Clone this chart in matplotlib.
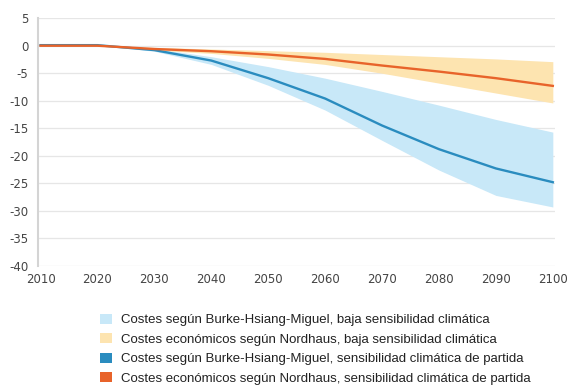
import matplotlib
matplotlib.use("Agg")
import matplotlib.pyplot as plt
from matplotlib.patches import Patch

years = [2010, 2020, 2030, 2040, 2050, 2060, 2070, 2080, 2090, 2100]
bhm_central = [0.1, 0.1, -0.8, -2.7, -5.9, -9.6, -14.5, -18.8, -22.3, -24.8]
bhm_upper = [0.1, 0.1, -0.5, -2.0, -3.8, -5.9, -8.3, -10.8, -13.4, -15.7]
bhm_lower = [0.1, 0.1, -1.0, -3.4, -7.2, -11.7, -17.2, -22.6, -27.2, -29.3]
nord_central = [0.0, 0.0, -0.6, -1.0, -1.6, -2.4, -3.6, -4.7, -5.9, -7.3]
nord_upper = [0.0, 0.0, -0.3, -0.6, -0.9, -1.2, -1.6, -2.0, -2.4, -2.9]
nord_lower = [0.0, 0.0, -0.8, -1.4, -2.3, -3.4, -5.0, -6.8, -8.6, -10.4]

y_ticks = [5, 0, -5, -10, -15, -20, -25, -30, -35, -40]
x_ticks = [2010, 2020, 2030, 2040, 2050, 2060, 2070, 2080, 2090, 2100]

labels = [
    "Costes según Burke-Hsiang-Miguel, baja sensibilidad climática",
    "Costes económicos según Nordhaus, baja sensibilidad climática",
    "Costes según Burke-Hsiang-Miguel, sensibilidad climática de partida",
    "Costes económicos según Nordhaus, sensibilidad climática de partida",
]

c_lblue = "#c8e8f8"
c_lorange = "#fde4b0"
c_blue = "#2a8cbf"
c_orange = "#e8632a"

fig = plt.figure(figsize=(5.67, 3.87), dpi=100)
ax = fig.add_axes([0.067, 0.313, 0.912, 0.640])

ax.fill_between(years, bhm_upper, bhm_lower, color=c_lblue, lw=0, zorder=2)
ax.fill_between(years, nord_upper, nord_lower, color=c_lorange, lw=0, zorder=2)
ax.plot(years, bhm_central, color=c_blue, lw=1.7, zorder=4)
ax.plot(years, nord_central, color=c_orange, lw=1.7, zorder=5)

ax.set_xlim(2009.55, 2100.4)
ax.set_ylim(-40, 5)
ax.set_yticks(y_ticks)
ax.set_yticklabels([str(v) for v in y_ticks])
ax.set_xticks(x_ticks)
ax.set_xticklabels([str(v) for v in x_ticks])
ax.tick_params(axis="both", length=0, labelsize=8.5, labelcolor="#444444")
ax.tick_params(axis="y", pad=7)
ax.tick_params(axis="x", pad=5)
ax.grid(axis="y", color="#e6e6e6", lw=0.9, zorder=0)
ax.set_axisbelow(True)
for s in ["top", "right", "bottom"]:
    ax.spines[s].set_visible(False)
ax.spines["left"].set_color("#d4d4d4")
ax.spines["left"].set_linewidth(1.5)

handles = [Patch(facecolor=c, edgecolor="none") for c in [c_lblue, c_lorange, c_blue, c_orange]]
fig.legend(handles, labels, loc="upper left", bbox_to_anchor=(0.176, 0.189),
           frameon=False, prop={"family": "Liberation Sans", "size": 9.5},
           handlelength=0.95, handleheight=0.8, handletextpad=0.65,
           labelspacing=0.52, borderaxespad=0, borderpad=0, labelcolor="#222222")

fig.savefig("out.png", dpi=100)
